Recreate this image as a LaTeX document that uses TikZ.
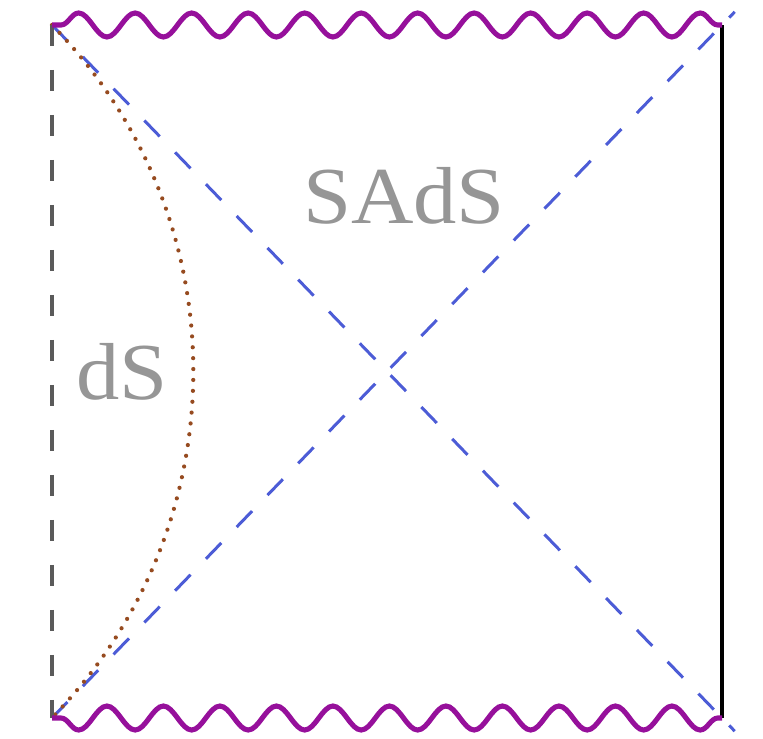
\documentclass[tikz,border=0pt]{standalone}
\usepackage{tikz}
\usepackage{xcolor}
\usepackage{fontspec}
\setmainfont{Liberation Serif}
\usetikzlibrary{calc,decorations.pathmorphing}

\definecolor{singpurple}{RGB}{150,16,155}
\definecolor{horizonblue}{RGB}{76,92,214}
\definecolor{wallbrown}{RGB}{150,75,32}
\definecolor{bdrygray}{RGB}{90,90,90}
\definecolor{labelgray}{RGB}{150,150,150}

\begin{document}
\begin{tikzpicture}[
    sing/.style={singpurple,line width=1.45pt,decorate,
        decoration={snake,amplitude=0.12cm,segment length=0.565cm,pre length=0.09cm}},
    horizon/.style={horizonblue,line width=0.85pt,dash pattern=on 6.3pt off 6.3pt},
    region/.style={text=labelgray,xscale=1.07,font=\fontsize{23}{27}\selectfont}]
    \useasboundingbox (0,0) rectangle (7.63,7.38);
    % corners of the diagram
    \coordinate (tl) at (0.52,7.13);
    \coordinate (bl) at (0.52,0.20);
    \coordinate (tr) at (7.22,7.13);
    \coordinate (br) at (7.22,0.20);
    \coordinate (tre) at ($(bl)!1.019!(tr)$);
    \coordinate (bre) at ($(tl)!1.019!(br)$);
    % horizons
    \draw[horizon] (tl) -- (bre);
    \draw[horizon] (bl) -- (tre);
    % domain wall
    \draw[wallbrown,line width=1.2pt,line cap=round,dash pattern=on 0pt off 3.1pt]
        (tl) arc[start angle=44.4,end angle=-44.4,radius=4.95];
    % boundaries
    \draw[bdrygray,line width=1.15pt,dash pattern=on 6pt off 6.8pt] (tl) -- (bl);
    \draw[black,line width=1.15pt] (tr) -- (br);
    % singularities
    \draw[sing] (tl) -- (tr);
    \draw[sing,decoration={mirror}] (bl) -- (br);
    \node[region] (sads) at (4.04,5.42) {SAdS};
    \node[region] (ds) at (1.22,3.66) {dS};
\end{tikzpicture}
\end{document}
